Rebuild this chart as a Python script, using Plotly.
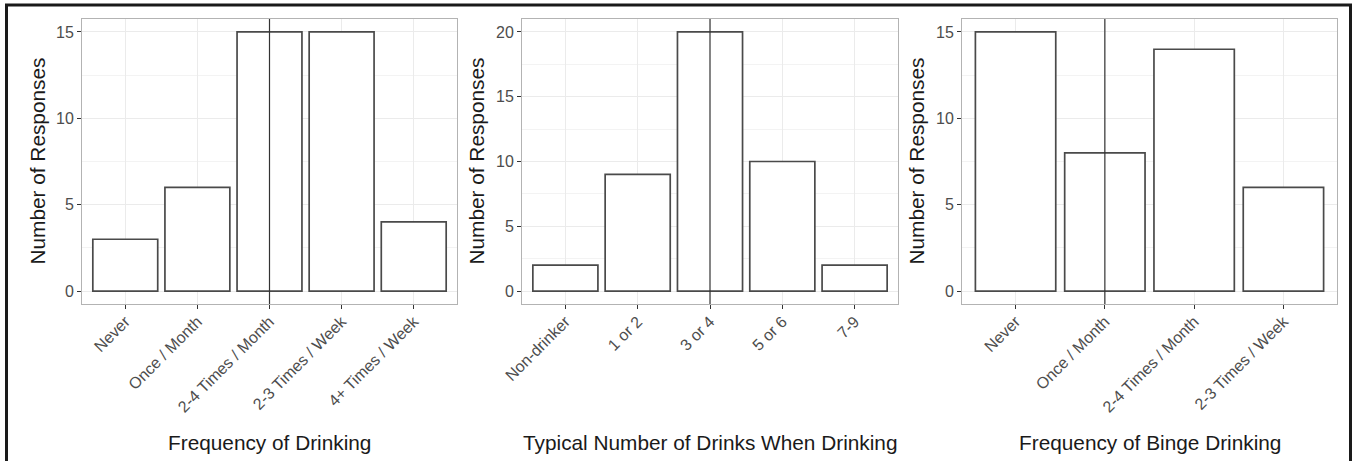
import plotly.graph_objects as go
from plotly.subplots import make_subplots

# ---- data ----
freq_categories = ["Never", "Once / Month", "2-4 Times / Month", "2-3 Times / Week", "4+ Times / Week"]
freq_counts = [3, 6, 15, 15, 4]
freq_median = "2-4 Times / Month"

drinks_categories = ["Non-drinker", "1 or 2", "3 or 4", "5 or 6", "7-9"]
drinks_counts = [2, 9, 20, 10, 2]
drinks_median = "3 or 4"

binge_categories = ["Never", "Once / Month", "2-4 Times / Month", "2-3 Times / Week"]
binge_counts = [15, 8, 14, 6]
binge_median = "Once / Month"

x_titles = ["Frequency of Drinking", "Typical Number of Drinks When Drinking", "Frequency of Binge Drinking"]
y_title = "Number of Responses"

W, H = 1353, 461
FONT = "Liberation Sans, Arial, sans-serif"

panels = [
    (freq_categories, freq_counts, freq_median, [-0.75, 15.75], (82, 457)),
    (drinks_categories, drinks_counts, drinks_median, [-1, 21], (522, 898)),
    (binge_categories, binge_counts, binge_median, [-0.75, 15.75], (962, 1337)),
]
plot_top, plot_bottom = 19, 304

fig = make_subplots(rows=1, cols=3)

for i, (cats, vals, med, yr, (xl, xr)) in enumerate(panels):
    col = i + 1
    fig.add_trace(go.Bar(
        x=cats, y=vals, width=0.9,
        marker=dict(color="white", line=dict(color="#4a4a4a", width=1.7)),
        showlegend=False, hoverinfo="x+y"), row=1, col=col)
    n = len(cats)
    fig.update_xaxes(
        domain=[xl / W, xr / W], range=[-0.6, n - 0.4], automargin=False,
        type="category", categoryorder="array", categoryarray=cats,
        tickangle=-45, ticks="outside", ticklen=4, tickcolor="#333333",
        ticklabelstandoff=-3,
        tickfont=dict(family=FONT, size=16, color="#4d4d4d"),
        showgrid=True, gridcolor="#ebebeb", gridwidth=1,
        showline=True, mirror=True, linecolor="#b3b3b3", linewidth=1,
        zeroline=False, row=1, col=col)
    fig.update_yaxes(
        domain=[1 - plot_bottom / H, 1 - plot_top / H], range=yr, automargin=False,
        tick0=0, dtick=5, ticks="outside", ticklen=4, tickcolor="#333333",
        tickfont=dict(family=FONT, size=16, color="#4d4d4d"),
        showgrid=True, gridcolor="#ebebeb", gridwidth=1,
        minor=dict(tick0=0, dtick=2.5, showgrid=True, gridcolor="#f3f3f3", gridwidth=0.6),
        showline=True, mirror=True, linecolor="#b3b3b3", linewidth=1,
        zeroline=False, row=1, col=col)
    xref = "x" if i == 0 else f"x{col}"
    yref = "y domain" if i == 0 else f"y{col} domain"
    fig.add_shape(type="line", xref=xref, yref=yref, x0=med, x1=med, y0=0, y1=1,
                  line=dict(color="#333333", width=1.2))
    # axis titles
    fig.add_annotation(text=x_titles[i], xref="paper", yref="paper",
                       x=(xl + xr) / 2 / W, y=1 - 442 / H, showarrow=False,
                       xanchor="center", yanchor="middle",
                       font=dict(family=FONT, size=20.8, color="#1a1a1a"))
    ytx = [37, 476, 916][i]
    fig.add_annotation(text=y_title, xref="paper", yref="paper",
                       x=ytx / W, y=1 - (plot_top + plot_bottom) / 2 / H, showarrow=False,
                       textangle=-90, xanchor="center", yanchor="middle",
                       font=dict(family=FONT, size=20.8, color="#1a1a1a"))

# outer frame
fig.add_shape(type="rect", xref="paper", yref="paper",
              x0=6.5 / W, x1=1350.5 / W, y0=-0.05, y1=1 - 5 / H,
              line=dict(color="#1a1a1a", width=3), fillcolor="rgba(0,0,0,0)")

fig.update_layout(
    width=W, height=H, margin=dict(l=0, r=0, t=0, b=0, autoexpand=False),
    paper_bgcolor="white", plot_bgcolor="white",
    font=dict(family=FONT), showlegend=False,
)

fig.write_html("out.html", config={"displayModeBar": False},
               post_script="document.body.style.margin='0';document.body.style.padding='0';")
